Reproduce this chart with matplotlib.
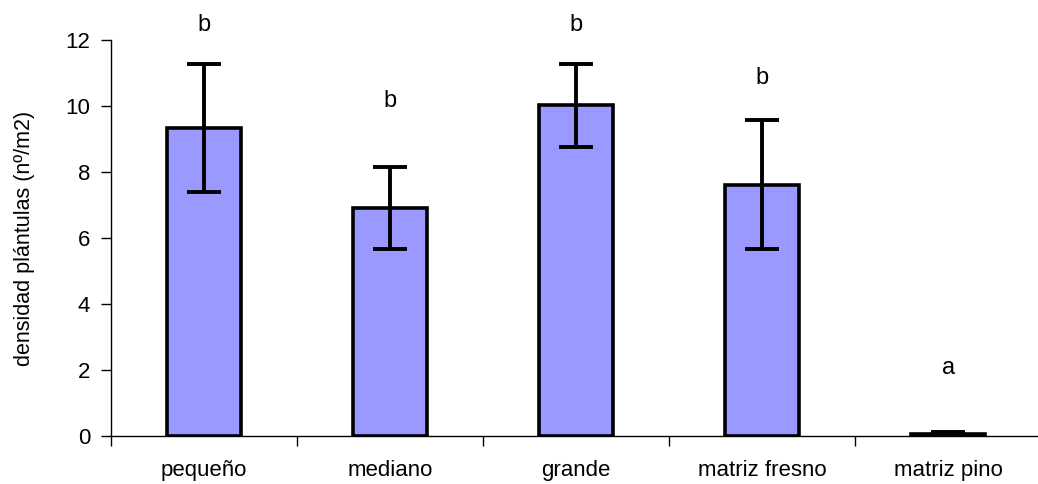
import matplotlib.pyplot as plt
import numpy as np

# datos
categorias = ["pequeño", "mediano", "grande", "matriz fresno", "matriz pino"]
densidad = [9.33, 6.92, 10.02, 7.62, 0.07]
error = [1.94, 1.24, 1.25, 1.96, 0.06]
letras = ["b", "b", "b", "b", "a"]
altura_letras = [12.45, 10.15, 12.45, 10.85, 2.05]

plt.rcParams['font.family'] = ['Liberation Sans', 'DejaVu Sans']

fig = plt.figure(figsize=(10.38, 4.84), dpi=100)
ax = fig.add_axes([0.107, 0.0992, 0.896, 0.818])

x = np.arange(len(categorias))
ax.bar(x, densidad, width=0.4, color='#9999FF', edgecolor='black', linewidth=2.6)
ax.errorbar(x, densidad, yerr=error, fmt='none', ecolor='black',
            elinewidth=2.8, capsize=12, capthick=2.8)

# letras de significancia
for i, (l, h) in enumerate(zip(letras, altura_letras)):
    ax.text(i, h, l, ha='center', va='center', fontsize=17)

ax.set_xlim(-0.5, 4.5)
ax.set_ylim(0, 12)
ax.set_yticks(range(0, 13, 2))
ax.tick_params(axis='y', direction='out', length=7, width=1, labelsize=16, pad=8)

# etiquetas en el centro, marcas entre categorias
ax.set_xticks(x)
ax.set_xticklabels(categorias, fontsize=16)
ax.tick_params(axis='x', which='major', length=0, pad=17)
ax.set_xticks(np.arange(-0.5, 5, 1), minor=True)
ax.tick_params(axis='x', which='minor', direction='out', length=7, width=1)

ax.spines['top'].set_visible(False)
ax.spines['right'].set_visible(False)
ax.spines['left'].set_linewidth(1)
ax.spines['bottom'].set_linewidth(1)

ax.set_ylabel("densidad plántulas (nº/m2)", fontsize=15.5, labelpad=22)

plt.savefig("out.png", dpi=100)
